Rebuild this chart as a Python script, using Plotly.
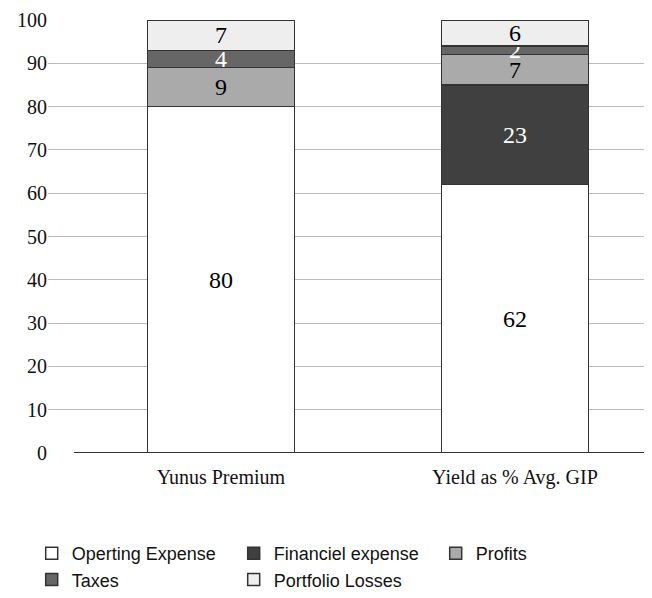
import plotly.graph_objects as go

categories = ["Yunus Premium", "Yield as % Avg. GIP"]
series_names = ["Operting Expense", "Financiel expense", "Profits", "Taxes", "Portfolio Losses"]
operating = [80, 62]
financial = [0, 23]
profits = [9, 7]
taxes = [4, 2]
portfolio = [7, 6]

values = [operating, financial, profits, taxes, portfolio]
colors = ["#ffffff", "#404040", "#aaaaaa", "#666666", "#eeeeee"]
text_colors = ["#000000", "#ffffff", "#000000", "#ffffff", "#000000"]

fig = go.Figure()
for name, vals, col, tcol in zip(series_names, values, colors, text_colors):
    fig.add_trace(go.Bar(
        x=categories, y=vals, name=name, width=0.5,
        marker=dict(color=col, line=dict(color="#333333", width=1.5)),
        text=[str(v) if v else "" for v in vals],
        textposition="inside", insidetextanchor="middle", textangle=0,
        textfont=dict(family="Liberation Serif", size=24, color=tcol),
        constraintext="none", cliponaxis=False,
    ))

# x-axis baseline spanning the category bands
fig.add_shape(type="line", xref="x", yref="y", x0=-0.5, x1=1.466, y0=0, y1=0,
              line=dict(color="#333333", width=2))

fig.update_layout(
    barmode="stack",
    width=644, height=590,
    margin=dict(l=40, r=0, t=12, b=145),
    paper_bgcolor="white", plot_bgcolor="white",
    showlegend=True,
    legend=dict(orientation="h", x=-0.027, y=-0.19, xanchor="left", yanchor="top",
                entrywidth=157, entrywidthmode="pixels",
                font=dict(family="Liberation Sans", size=18, color="#111111"),
                traceorder="normal", itemclick=False),
    uniformtext=dict(mode="show", minsize=24),
    xaxis=dict(range=[-0.588, 1.466], showgrid=False, showline=False, ticks="",
               automargin=False, ticklabelstandoff=10,
               tickfont=dict(family="Liberation Serif", size=20, color="#111111")),
    yaxis=dict(range=[0, 100], dtick=10, showgrid=True, gridcolor="#bbbbbb", gridwidth=1,
               zeroline=False, showline=False, ticks="", automargin=False,
               tickfont=dict(family="Liberation Serif", size=20, color="#111111")),
)

fig.write_html("out.html")
